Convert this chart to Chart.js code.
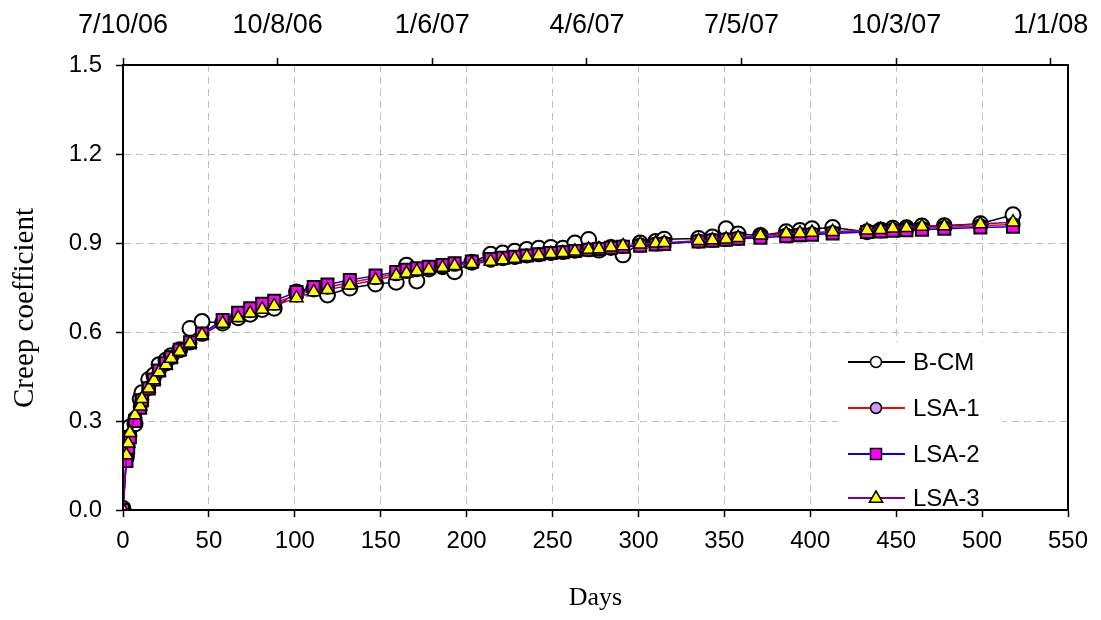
<!DOCTYPE html>
<html>
<head>
<meta charset="utf-8">
<script src="https://cdn.jsdelivr.net/npm/chart.js@4.4.1/dist/chart.umd.min.js"></script>
<style>
  html, body { margin: 0; padding: 0; background: #fff; }
</style>
</head>
<body>
<canvas id="grafico" width="1101" height="620"></canvas>
<script>
// Días desde la carga
const dias = [0, 2, 3, 4, 7, 10, 11, 15, 18, 21, 25, 28, 33, 39, 46, 58, 67, 74, 81, 88,
  101, 111, 119, 132, 147, 159, 165, 171, 178, 186, 193, 203, 214, 221, 228, 235, 242, 249, 256, 263,
  271, 277, 284, 291, 301, 310, 315, 335, 343, 351, 358, 371, 386, 394, 401, 413, 433, 441, 448, 456,
  465, 478, 499, 518];

// Coeficiente de fluencia medido (B-CM)
const bcm = [0.005, 0.18, 0.275, 0.28, 0.29, 0.375, 0.395, 0.44, 0.455, 0.49, 0.505, 0.52, 0.54, 0.612, 0.635, 0.63, 0.648, 0.66, 0.676, 0.68,
  0.735, 0.745, 0.725, 0.748, 0.762, 0.768, 0.825, 0.772, 0.812, 0.82, 0.803, 0.835, 0.862, 0.866, 0.872, 0.878, 0.882, 0.885, 0.882, 0.90,
  0.912, 0.876, 0.885, 0.86, 0.90, 0.905, 0.913, 0.915, 0.92, 0.948, 0.93, 0.925, 0.938, 0.942, 0.948, 0.952, 0.938, 0.944, 0.95, 0.951,
  0.957, 0.958, 0.965, 0.995];

// Modelos LSA
const lsa1 = [0.0, 0.17, 0.215, 0.25, 0.31, 0.347, 0.372, 0.41, 0.44, 0.468, 0.492, 0.513, 0.537, 0.563, 0.592, 0.635, 0.657, 0.672, 0.686, 0.697,
  0.725, 0.744, 0.751, 0.767, 0.783, 0.796, 0.804, 0.81, 0.815, 0.821, 0.828, 0.834, 0.842, 0.847, 0.851, 0.856, 0.86, 0.865, 0.868, 0.872,
  0.877, 0.88, 0.885, 0.888, 0.893, 0.897, 0.899, 0.906, 0.909, 0.912, 0.916, 0.922, 0.927, 0.929, 0.931, 0.935, 0.94, 0.942, 0.945, 0.947,
  0.95, 0.952, 0.958, 0.962];

const lsa2 = [0.0, 0.165, 0.21, 0.245, 0.30, 0.345, 0.37, 0.41, 0.44, 0.47, 0.495, 0.515, 0.54, 0.565, 0.595, 0.64, 0.665, 0.68, 0.695, 0.705,
  0.735, 0.752, 0.76, 0.775, 0.79, 0.802, 0.81, 0.815, 0.82, 0.826, 0.832, 0.838, 0.846, 0.85, 0.854, 0.858, 0.862, 0.866, 0.869, 0.873,
  0.877, 0.88, 0.884, 0.887, 0.891, 0.895, 0.897, 0.905, 0.908, 0.911, 0.914, 0.918, 0.923, 0.926, 0.928, 0.932, 0.937, 0.939, 0.941, 0.943,
  0.945, 0.948, 0.952, 0.955];

const lsa3 = [0.0, 0.185, 0.225, 0.26, 0.32, 0.35, 0.375, 0.41, 0.438, 0.465, 0.489, 0.511, 0.534, 0.562, 0.59, 0.629, 0.648, 0.663, 0.676, 0.688,
  0.715, 0.735, 0.742, 0.758, 0.775, 0.79, 0.798, 0.805, 0.81, 0.817, 0.823, 0.83, 0.838, 0.843, 0.848, 0.854, 0.859, 0.864, 0.867, 0.872,
  0.878, 0.88, 0.886, 0.89, 0.896, 0.899, 0.901, 0.908, 0.91, 0.913, 0.918, 0.926, 0.932, 0.933, 0.935, 0.938, 0.943, 0.945, 0.95, 0.951,
  0.956, 0.957, 0.964, 0.97];

// Etiquetas del eje superior (fechas)
const fechas = ['7/10/06', '10/8/06', '1/6/07', '4/6/07', '7/5/07', '10/3/07', '1/1/08'];
const nombres = ['B-CM', 'LSA-1', 'LSA-2', 'LSA-3'];
const tituloY = 'Creep coefficient';

function puntos(valores) {
    return dias.map((d, i) => ({ x: d, y: valores[i] }));
}

const fuenteEjes = 'Liberation Sans, Arial, sans-serif';
const fuenteTitulos = 'Liberation Serif, Times New Roman, serif';

// Dibujar un marcador a mano (para la leyenda)
function marcador(ctx, estilo, x, y, r, relleno, ancho) {
    ctx.save();
    ctx.fillStyle = relleno;
    ctx.strokeStyle = '#000';
    ctx.lineWidth = ancho;
    ctx.beginPath();
    if (estilo === 'circle') {
        ctx.arc(x, y, r, 0, Math.PI * 2);
    } else if (estilo === 'rect') {
        ctx.rect(x - r, y - r, r * 2, r * 2);
    } else {
        ctx.moveTo(x, y - r);
        ctx.lineTo(x + r * 0.95, y + r * 0.62);
        ctx.lineTo(x - r * 0.95, y + r * 0.62);
        ctx.closePath();
    }
    ctx.fill();
    ctx.stroke();
    ctx.restore();
}

// Leyenda dentro del área del gráfico
const leyendaInterna = {
    id: 'leyendaInterna',
    afterDraw(chart) {
        const ctx = chart.ctx;
        const filas = [362, 408, 454, 498];
        const tam = [5.5, 5.5, 5.5, 7];
        ctx.save();
        ctx.fillStyle = '#fff';
        ctx.fillRect(838, 342, 165, 166);
        chart.data.datasets.forEach((ds, i) => {
            const y = filas[i];
            ctx.strokeStyle = ds.borderColor;
            ctx.lineWidth = 2;
            ctx.beginPath();
            ctx.moveTo(848, y);
            ctx.lineTo(905, y);
            ctx.stroke();
            marcador(ctx, ds.pointStyle, 876, y, tam[i], ds.pointBackgroundColor, 1.5);
            ctx.fillStyle = '#000';
            ctx.font = '24px ' + fuenteEjes;
            ctx.textBaseline = 'middle';
            ctx.textAlign = 'left';
            ctx.fillText(nombres[i], 913, y + 1);
        });
        ctx.restore();
    }
};

// Marco completo alrededor del área y título del eje Y
const marco = {
    id: 'marco',
    afterDatasetsDraw(chart) {
        const a = chart.chartArea;
        const ctx = chart.ctx;
        ctx.save();
        ctx.strokeStyle = '#000';
        ctx.lineWidth = 2;
        ctx.strokeRect(a.left, a.top, a.right - a.left, a.bottom - a.top);
        ctx.translate(25, 308);
        ctx.rotate(-Math.PI / 2);
        ctx.fillStyle = '#000';
        ctx.font = '29px ' + fuenteTitulos;
        ctx.textAlign = 'center';
        ctx.textBaseline = 'middle';
        ctx.fillText(tituloY, 0, 0);
        ctx.restore();
    }
};

const rejilla = {
    color: '#c0c0c0',
    lineWidth: 1,
    tickColor: '#000',
    tickLength: 7,
    tickWidth: 1.5
};

new Chart(document.getElementById('grafico'), {
    type: 'scatter',
    data: {
        datasets: [
            {
                label: nombres[0],
                data: puntos(bcm),
                showLine: true,
                borderColor: '#000000',
                borderWidth: 1.5,
                pointStyle: 'circle',
                pointRadius: 7.5,
                pointBackgroundColor: '#ffffff',
                pointBorderColor: '#000000',
                pointBorderWidth: 2,
                order: 4
            },
            {
                label: nombres[1],
                data: puntos(lsa1),
                showLine: true,
                borderColor: '#ff0000',
                borderWidth: 1.5,
                pointStyle: 'circle',
                pointRadius: 6.5,
                pointBackgroundColor: '#cc99ff',
                pointBorderColor: '#000000',
                pointBorderWidth: 2,
                order: 3
            },
            {
                label: nombres[2],
                data: puntos(lsa2),
                showLine: true,
                borderColor: '#0000ff',
                borderWidth: 1.5,
                pointStyle: 'rect',
                pointRadius: 8.5,
                pointBackgroundColor: '#ff00ff',
                pointBorderColor: '#000000',
                pointBorderWidth: 2,
                order: 2
            },
            {
                label: nombres[3],
                data: puntos(lsa3),
                showLine: true,
                borderColor: '#800080',
                borderWidth: 1.5,
                pointStyle: 'triangle',
                pointRadius: 7.5,
                pointBackgroundColor: '#ffff00',
                pointBorderColor: '#000000',
                pointBorderWidth: 1.5,
                order: 1
            }
        ]
    },
    options: {
        responsive: false,
        animation: false,
        devicePixelRatio: 1,
        layout: { padding: 0 },
        plugins: {
            legend: { display: false },
            tooltip: { enabled: false }
        },
        scales: {
            x: {
                type: 'linear',
                position: 'bottom',
                min: 0,
                max: 550,
                ticks: { stepSize: 50, color: '#000', padding: 10, font: { family: fuenteEjes, size: 24 } },
                grid: rejilla,
                border: { color: '#000', width: 2, dash: [7, 5] },
                title: { display: true, text: 'Days', color: '#000', padding: { top: 0, bottom: 6 }, font: { family: fuenteTitulos, size: 26 } },
                afterFit: (s) => { s.height = 110; s.paddingLeft = 0; s.paddingRight = 0; }
            },
            x2: {
                type: 'linear',
                position: 'top',
                min: 0,
                max: 550,
                ticks: {
                    stepSize: 90,
                    includeBounds: false,
                    color: '#000',
                    padding: 16,
                    font: { family: fuenteEjes, size: 27 },
                    callback: (v, i) => fechas[i] ?? ''
                },
                grid: { drawOnChartArea: false, tickColor: '#000', tickLength: 7, tickWidth: 1.5 },
                border: { color: '#000', width: 2 },
                afterFit: (s) => { s.height = 65; s.paddingLeft = 0; s.paddingRight = 0; }
            },
            y: {
                type: 'linear',
                position: 'left',
                min: 0,
                max: 1.5,
                ticks: { stepSize: 0.3, color: '#000', padding: 14, font: { family: fuenteEjes, size: 24 }, callback: (v) => v.toFixed(1) },
                grid: rejilla,
                border: { color: '#000', width: 2, dash: [7, 5] },
                afterFit: (s) => { s.width = 123; }
            },
            y2: {
                type: 'linear',
                position: 'right',
                min: 0,
                max: 1.5,
                ticks: { display: false },
                grid: { drawOnChartArea: false, drawTicks: false },
                border: { color: '#000', width: 2 },
                afterFit: (s) => { s.width = 33; }
            }
        }
    },
    plugins: [marco, leyendaInterna]
});
</script>
</body>
</html>
